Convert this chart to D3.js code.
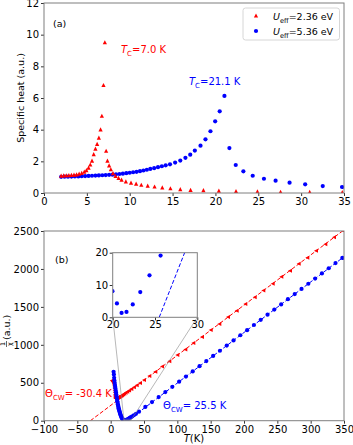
<!DOCTYPE html>
<html><head><meta charset="utf-8">
<script src="https://cdn.jsdelivr.net/npm/d3@7/dist/d3.min.js"></script>
<style>
html,body{margin:0;padding:0;background:#fff;}
svg{display:block;font-family:"DejaVu Sans",sans-serif;}
</style></head>
<body>
<svg id="chart" width="353" height="445"></svg>
<script>
// ---------- DATA ----------
// Panel (a): specific heat
const redT_C = [2.0,2.3,2.6,2.9,3.2,3.5,3.8,4.1,4.4,4.7,4.95,5.2,5.4,5.6,5.8,6.0,6.2,6.4,6.6,6.75,6.94,7.1,
  7.25,7.4,7.6,7.8,8.05,8.35,8.7,9.05,9.55,10.15,10.75,11.35,12.1,12.9,13.8,14.75,15.9,17.1,18.6,20.4,22.4,24.9,27.6,31.0,34.8];
const redC = [1.10,1.11,1.12,1.13,1.14,1.16,1.18,1.22,1.27,1.35,1.45,1.6,1.8,2.05,2.45,2.8,3.1,3.5,4.02,4.88,6.82,9.52,
  2.67,2.05,1.75,1.5,1.25,1.08,0.95,0.84,0.74,0.65,0.59,0.52,0.47,0.41,0.36,0.3,0.25,0.2,0.18,0.15,0.12,0.1,0.08,0.07,0.05];
const blueT_C = [2.0,2.4,2.8,3.2,3.6,4.0,4.4,4.8,5.2,5.6,6.0,6.4,6.8,7.2,7.6,8.0,8.4,8.8,9.2,9.6,10.0,10.4,10.8,11.2,11.6,12.0,12.4,12.85,13.3,13.75,14.2,14.7,15.3,15.9,16.5,17.06,17.6,18.26,18.84,19.42,19.97,20.5,21.05,
  21.63,22.37,23.26,24.35,25.66,27.02,28.65,30.47,32.52,34.77];
const blueC = [1.02,1.03,1.03,1.04,1.05,1.05,1.06,1.07,1.08,1.09,1.10,1.11,1.12,1.13,1.15,1.16,1.18,1.2,1.22,1.25,1.28,1.31,1.34,1.38,1.42,1.47,1.52,1.57,1.63,1.69,1.75,1.81,1.92,2.05,2.22,2.42,2.68,2.99,3.39,3.9,4.53,5.16,6.13,
  2.84,1.77,1.37,1.09,0.9,0.78,0.65,0.55,0.44,0.38];

// Panel (b): inverse susceptibility
const redT_X = [2.0,2.3,2.6,2.9,3.2,3.5,3.8,4.1,4.4,4.7,4.95,5.2,5.4,5.6,5.8,6.0,6.2,6.4,6.6,6.75,6.94,7.1,
  7.25,7.4,7.6,7.8,8.05,8.35,8.7,9.05,9.55,10.15,10.75,11.35,12.1,12.9,13.8,14.75,15.9,17.1,18.6,20.4,22.4,24.9,27.6,31.0,34.8,
  39,44,50,58,67,77,88,100,112,124,137,150,163,176,189,202,216,229,243,256,269,282,295,308,322,335,348.5];
const redX = [530,528,526,523,520,517,513,508,502,495,487,476,462,444,420,395,370,348,328,315,305,298,
  298,297,297,297,298,299,300,301,302,304,306,308,311,314,318,323,329,336,345,356,368,383,398,419,441,
  466,498,536,590,646,713,784,866,939,1024,1104,1195,1276,1367,1448,1539,1626,1717,1805,1896,1977,2068,2149,2239,2327,2418,2503];
const blueT_X = [4.4,4.8,5.2,5.6,6.0,6.4,6.8,7.2,7.6,8.0,8.4,8.8,9.2,9.6,10.0,10.4,10.8,11.2,11.6,12.0,12.4,12.85,13.3,13.75,14.2,14.7,15.3,15.9,16.5,17.06,17.6,18.26,18.84,19.42,19.97,20.5,21.05,
  21.63,22.37,23.26,24.35,25.66,27.02,28.65,30.47,32.52,34.77,38,42.5,52,62,72,82,
  92.5,102.7,112.9,123.1,133.3,143.5,153.7,163.9,174.1,184.3,194.5,204.7,214.9,225.1,235.3,245.5,255.7,265.9,276.1,286.3,296.5,306.7,316.9,327.1,337.3,347.5];
const blueX = [645,610,565,530,500,470,445,420,395,370,345,320,298,275,255,235,216,198,181,165,150,135,120,106,93,80,66,53,42,32,24,17,12.5,10,8.1,4.3,1.35,
  1.65,4.0,7.8,13,19.1,27,36,46,58,72,91,119,181,246,312,377,
  446,514,582,650,718,786,854,922,990,1058,1126,1193,1261,1329,1397,1465,1533,1601,1669,1737,1805,1873,1941,2009,2077,2145];

// Curie-Weiss fits
const thetaRed = -30.4, slopeRed = 6.61;
const thetaBlue = 25.5, slopeBlue = 6.66;

// ticks
const ticksAx = [0,5,10,15,20,25,30,35];
const ticksAy = [0,2,4,6,8,10,12];
const ticksBx = [-100,-50,0,50,100,150,200,250,300,350];
const ticksBy = [0,500,1000,1500,2000,2500];
const ticksIx = [20,25,30];
const ticksIy = [0,10,20];

const RED = "#ff0000", BLUE = "#0000ff", FRAME = "#7f7f7f";

// ---------- DRAW ----------
const svg = d3.select("#chart");
const defs = svg.append("defs");

function clip(id, x0, y0, x1, y1) {
  defs.append("clipPath").attr("id", id).append("rect")
    .attr("x", x0).attr("y", y0).attr("width", x1 - x0).attr("height", y1 - y0);
}

function styleAxis(g) {
  g.selectAll("path.domain").remove();
  g.selectAll(".tick line").attr("stroke", "#000").attr("stroke-width", 0.8);
  g.selectAll(".tick text").attr("font-family", "DejaVu Sans").attr("font-size", 10).attr("fill", "#000");
}

function frame(x0, y0, x1, y1) {
  svg.append("rect").attr("x", x0).attr("y", y0).attr("width", x1 - x0).attr("height", y1 - y0)
    .attr("fill", "none").attr("stroke", FRAME).attr("stroke-width", 1);
}

const triUp = s => `M0,${-s}L${s},${s}L${-s},${s}Z`;
const triLeft = s => `M${-s},0L${s},${-s}L${s},${s}Z`;

function rich(parent, x, y, parts, opts) {
  const t = parent.append("text").attr("x", x).attr("y", y)
    .attr("font-size", opts.size || 10).attr("fill", opts.color || "#000")
    .attr("text-anchor", opts.anchor || "start");
  let shift = 0;
  parts.forEach(p => {
    const ts = t.append("tspan").text(p.t);
    const want = p.sub ? 2.5 : 0;
    if (want !== shift) { ts.attr("dy", want - shift); shift = want; }
    if (p.sub) ts.attr("font-size", (opts.size || 10) * 0.7);
    if (p.it) ts.attr("font-style", "italic");
  });
  return t;
}

// ===== Panel (a) =====
const A = {l: 44, r: 344, t: 3, b: 193};
const xA = d3.scaleLinear().domain([0, 35]).range([A.l, A.r]);
const yA = d3.scaleLinear().domain([0, 12]).range([A.b, A.t]);
clip("clipA", A.l, A.t, A.r, A.b);

svg.append("g").attr("transform", `translate(0,${A.b})`)
  .call(d3.axisBottom(xA).tickValues(ticksAx).tickFormat(d3.format("d")).tickSize(3).tickPadding(2)).call(styleAxis);
svg.append("g").attr("transform", `translate(${A.l},0)`)
  .call(d3.axisLeft(yA).tickValues(ticksAy).tickFormat(d3.format("d")).tickSize(3).tickPadding(2)).call(styleAxis);

const gA = svg.append("g").attr("clip-path", "url(#clipA)");
gA.selectAll("circle.b").data(blueT_C.map((t, i) => [t, blueC[i]])).join("circle")
  .attr("cx", d => xA(d[0])).attr("cy", d => yA(d[1])).attr("r", 2.1).attr("fill", BLUE);
gA.selectAll("path.r").data(redT_C.map((t, i) => [t, redC[i]])).join("path")
  .attr("transform", d => `translate(${xA(d[0])},${yA(d[1])})`).attr("d", triUp(2.1)).attr("fill", RED);
frame(A.l, A.t, A.r, A.b);

svg.append("text").attr("x", 53).attr("y", 27).attr("font-size", 9.5).text("(a)");
rich(svg, 121, 53, [{t: "T", it: true}, {t: "C", sub: true}, {t: "=7.0 K"}], {color: RED, size: 10});
rich(svg, 189, 85, [{t: "T", it: true}, {t: "C", sub: true}, {t: "=21.1 K"}], {color: BLUE, size: 10});
svg.append("text").attr("transform", `translate(24,98) rotate(-90)`).attr("text-anchor", "middle")
  .attr("font-size", 9.5).text("Specific heat (a.u.)");

// legend
const lg = svg.append("g");
lg.append("rect").attr("x", 243).attr("y", 8).attr("width", 96.5).attr("height", 32).attr("rx", 2.5)
  .attr("fill", "#fff").attr("fill-opacity", 0.8).attr("stroke", "#cccccc").attr("stroke-width", 0.8);
lg.append("path").attr("transform", "translate(256,15.5)").attr("d", triUp(2.1)).attr("fill", RED);
lg.append("circle").attr("cx", 256).attr("cy", 31).attr("r", 2.1).attr("fill", BLUE);
rich(lg, 273, 20, [{t: "U", it: true}, {t: "eff", sub: true}, {t: "=2.36 eV"}], {size: 9.5});
rich(lg, 273, 35, [{t: "U", it: true}, {t: "eff", sub: true}, {t: "=5.36 eV"}], {size: 9.5});

// ===== Panel (b) =====
const B = {l: 44, r: 344, t: 231, b: 420.7};
const xB = d3.scaleLinear().domain([-100, 350]).range([B.l, B.r]);
const yB = d3.scaleLinear().domain([0, 2500]).range([B.b, B.t]);
clip("clipB", B.l, B.t, B.r, B.b);

svg.append("g").attr("transform", `translate(0,${B.b})`)
  .call(d3.axisBottom(xB).tickValues(ticksBx).tickFormat(d => d < 0 ? "\u2212" + (-d) : d).tickSize(3).tickPadding(2)).call(styleAxis);
svg.append("g").attr("transform", `translate(${B.l},0)`)
  .call(d3.axisLeft(yB).tickValues(ticksBy).tickFormat(d3.format("d")).tickSize(3).tickPadding(2)).call(styleAxis);

const gB = svg.append("g").attr("clip-path", "url(#clipB)");
const line = d3.line().x(d => xB(d[0])).y(d => yB(d[1]));
gB.append("path").datum([[thetaRed, 0], [350, slopeRed * (350 - thetaRed)]]).attr("d", line)
  .attr("stroke", RED).attr("stroke-width", 1).attr("stroke-dasharray", "4,2").attr("fill", "none");
gB.append("path").datum([[thetaBlue, 0], [350, slopeBlue * (350 - thetaBlue)]]).attr("d", line)
  .attr("stroke", BLUE).attr("stroke-width", 1).attr("stroke-dasharray", "4,2").attr("fill", "none");
gB.selectAll("path.r").data(redT_X.map((t, i) => [t, redX[i]])).join("path")
  .attr("transform", d => `translate(${xB(d[0])},${yB(d[1])})`).attr("d", triLeft(2)).attr("fill", RED);
gB.selectAll("circle.b").data(blueT_X.map((t, i) => [t, blueX[i]])).join("circle")
  .attr("cx", d => xB(d[0])).attr("cy", d => yB(d[1])).attr("r", 2.1).attr("fill", BLUE);
frame(B.l, B.t, B.r, B.b);

// inset
const I = {l: 112.7, r: 197.3, t: 252.7, b: 317.3};
const xI = d3.scaleLinear().domain([20, 30]).range([I.l, I.r]);
const yI = d3.scaleLinear().domain([0, 20]).range([I.b, I.t]);
// zoom rectangle in main axes + connectors
svg.append("rect").attr("x", xB(20)).attr("y", yB(20)).attr("width", xB(30) - xB(20)).attr("height", yB(0) - yB(20))
  .attr("fill", "none").attr("stroke", "#888").attr("stroke-width", 0.6);
svg.append("line").attr("x1", I.l).attr("y1", I.b).attr("x2", xB(20)).attr("y2", yB(0))
  .attr("stroke", "#888").attr("stroke-width", 0.6);
svg.append("line").attr("x1", I.r).attr("y1", I.b).attr("x2", xB(30)).attr("y2", yB(0))
  .attr("stroke", "#888").attr("stroke-width", 0.6);

svg.append("rect").attr("x", I.l).attr("y", I.t).attr("width", I.r - I.l).attr("height", I.b - I.t).attr("fill", "#fff");
clip("clipI", I.l, I.t, I.r, I.b);
svg.append("g").attr("transform", `translate(0,${I.b})`)
  .call(d3.axisBottom(xI).tickValues(ticksIx).tickFormat(d3.format("d")).tickSize(3).tickPadding(1)).call(styleAxis);
svg.append("g").attr("transform", `translate(${I.l},0)`)
  .call(d3.axisLeft(yI).tickValues(ticksIy).tickFormat(d3.format("d")).tickSize(3).tickPadding(1.5)).call(styleAxis);
const gI = svg.append("g").attr("clip-path", "url(#clipI)");
const lineI = d3.line().x(d => xI(d[0])).y(d => yI(d[1]));
gI.append("path").datum([[thetaBlue, 0], [30, slopeBlue * (30 - thetaBlue)]]).attr("d", lineI)
  .attr("stroke", BLUE).attr("stroke-width", 1).attr("stroke-dasharray", "4,2").attr("fill", "none");
gI.selectAll("circle").data(blueT_X.map((t, i) => [t, blueX[i]]).filter(d => d[0] >= 19 && d[0] <= 31)).join("circle")
  .attr("cx", d => xI(d[0])).attr("cy", d => yI(d[1])).attr("r", 2.1).attr("fill", BLUE);
frame(I.l, I.t, I.r, I.b);

svg.append("text").attr("x", 55).attr("y", 263).attr("font-size", 9.5).text("(b)");
rich(svg, 45, 397, [{t: "\u0398"}, {t: "CW", sub: true}, {t: "= -30.4 K"}], {color: RED, size: 10});
rich(svg, 163, 409, [{t: "\u0398"}, {t: "CW", sub: true}, {t: "= 25.5 K"}], {color: BLUE, size: 10});
rich(svg, 194, 442, [{t: "T", it: true}, {t: "(K)"}], {size: 10, anchor: "middle"});

// y label with fraction 1/chi
const yl = svg.append("g").attr("transform", "translate(10,328) rotate(-90)");
yl.append("text").attr("x", -16).attr("y", -5).attr("font-size", 6.5).attr("text-anchor", "middle").text("1");
yl.append("line").attr("x1", -19).attr("x2", -13).attr("y1", -3.5).attr("y2", -3.5).attr("stroke", "#000").attr("stroke-width", 0.6);
yl.append("text").attr("x", -16).attr("y", 1.5).attr("font-size", 6.5).attr("text-anchor", "middle").text("\u03c7");
yl.append("text").attr("x", -12).attr("y", 0).attr("font-size", 9.5).text("(a.u.)");
</script>
</body></html>
